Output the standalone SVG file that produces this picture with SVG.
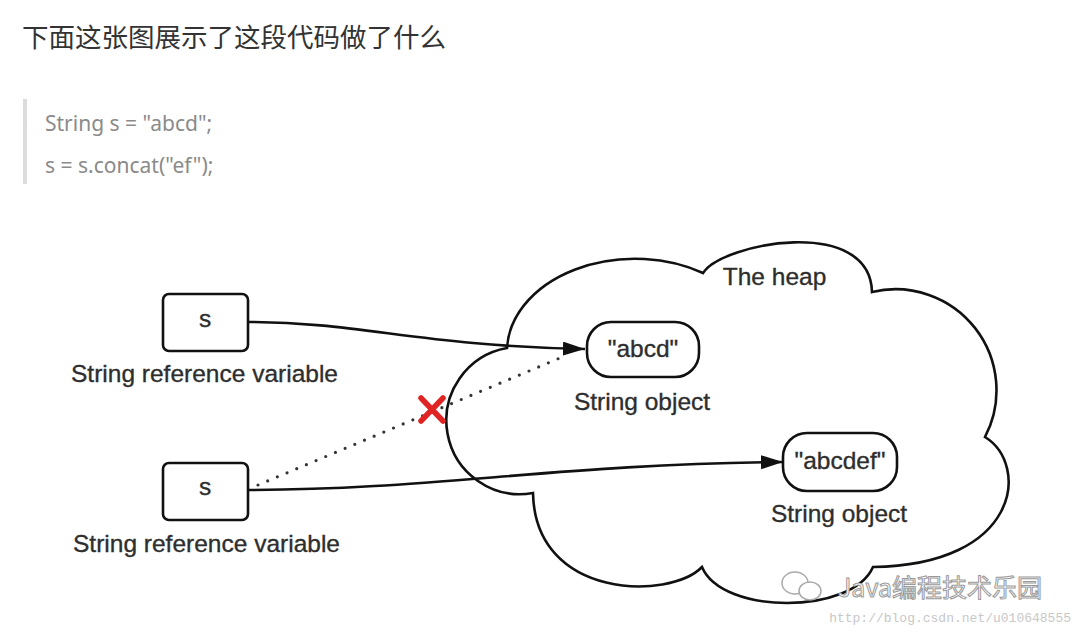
<svg xmlns="http://www.w3.org/2000/svg" width="1080" height="633" viewBox="0 0 1080 633">
  <defs>
    <marker id="arrow" markerUnits="userSpaceOnUse" markerWidth="24" markerHeight="16" refX="22" refY="7" orient="auto">
      <path d="M0,0 L22,7 L0,14 z" fill="#111"/>
    </marker>
  </defs>
  <style>
    .title { font-family: "Noto Sans CJK SC", "Noto Sans", sans-serif; font-size: 26.5px; fill: #333; }
    .code { font-family: "Noto Sans", "Open Sans", sans-serif; font-size: 21px; fill: #8a8a8a; }
    .lbl { font-family: "Liberation Sans", Arial, sans-serif; font-size: 24.5px; fill: #2e2e2e; stroke: #2e2e2e; stroke-width: 0.35; text-anchor: middle; }
    .shape { fill: #fff; stroke: #111; stroke-width: 2.6; }
    .edge { fill: none; stroke: #111; stroke-width: 2.6; }
    .dotted { fill: none; stroke: #333; stroke-width: 3.2; stroke-linecap: round; stroke-dasharray: 0 10.5; }
    .wm { font-family: "Noto Sans CJK SC", "Noto Sans", sans-serif; font-size: 25px; fill: #fff; stroke: #9a9a9a; stroke-width: 1; }
    .url { font-family: "Liberation Mono", "DejaVu Sans Mono", monospace; font-size: 13px; fill: #c8c8c8; }
  </style>
  <rect width="1080" height="633" fill="#fff"/>

  <g id="title">
    <text class="title" x="22" y="47">下面这张图展示了这段代码做了什么</text>
  </g>

  <g id="code">
    <rect x="23" y="99" width="4" height="85" fill="#dcdcdc"/>
    <text class="code" x="45" y="131">String s = "abcd";</text>
    <text class="code" x="45" y="173">s = s.concat("ef");</text>
  </g>

  <g id="heap">
    <path class="shape" d="M507,348 A128,93 0 0 1 703,273 C722,243 870,215 872,292 A101,101 0 0 1 985,437 C1030,465 1020,565 873,567 C852,615 722,615 702,567 C670,600 535,600 533,493 A73,73 0 0 1 507,348 Z"/>
    <text class="lbl" x="774.5" y="285">The heap</text>
  </g>

  <g id="var1">
    <rect class="shape" x="163" y="294" width="85" height="57" rx="6"/>
    <text class="lbl" x="205" y="327">s</text>
    <text class="lbl" x="204.5" y="382">String reference variable</text>
  </g>

  <g id="var2">
    <rect class="shape" x="163" y="463" width="85" height="57" rx="6"/>
    <text class="lbl" x="205" y="495">s</text>
    <text class="lbl" x="206.5" y="552">String reference variable</text>
  </g>

  <g id="obj1">
    <rect class="shape" x="587" y="322" width="112" height="55" rx="24"/>
    <text class="lbl" x="643" y="357">"abcd"</text>
    <text class="lbl" x="642" y="410">String object</text>
  </g>

  <g id="obj2">
    <rect class="shape" x="783" y="433" width="114" height="58" rx="24"/>
    <text class="lbl" x="840" y="469">"abcdef"</text>
    <text class="lbl" x="839" y="522">String object</text>
  </g>

  <g id="connectors">
    <path class="edge" d="M248,322 C360,322 420,346 585,349" marker-end="url(#arrow)"/>
    <path class="edge" d="M248,490 C430,490 560,464 783,462" marker-end="url(#arrow)"/>
    <path class="dotted" d="M258,485 L567,355"/>
  </g>

  <g id="broken-mark">
    <path d="M421,398 L443,421 M443,398 L421,421" stroke="#e02424" stroke-width="5.5" stroke-linecap="round" fill="none"/>
  </g>

  <g id="watermark">
    <ellipse cx="795" cy="583" rx="13" ry="11" fill="#fff" stroke="#aaa" stroke-width="1.5"/>
    <ellipse cx="810" cy="591" rx="11" ry="9" fill="#fff" stroke="#aaa" stroke-width="1.5"/>
    <text class="wm" x="1042" y="597" text-anchor="end">Java编程技术乐园</text>
    <text class="url" x="1071" y="622" text-anchor="end">http://blog.csdn.net/u010648555</text>
  </g>
</svg>
